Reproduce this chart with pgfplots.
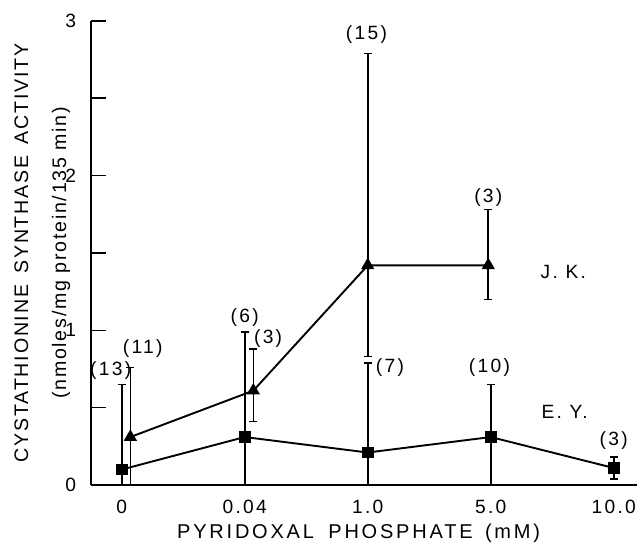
\documentclass[border=0pt]{standalone}
\usepackage{fontspec}
\setmainfont{Liberation Sans}
\newfontfamily\lab[LetterSpace=12]{Liberation Sans}
\newfontfamily\labx[LetterSpace=14]{Liberation Sans}
\newfontfamily\laby[LetterSpace=9]{Liberation Sans}
\usepackage{pgfplots}
\pgfplotsset{compat=1.18}
\newcommand{\lf}{\lab\fontsize{9.6}{11}\selectfont}
\tikzset{cnt/.style={font=\lf, inner sep=0pt}}
\begin{document}
\begin{tikzpicture}
\begin{axis}[
 x=61.5pt, y=77.35pt,
 xmin=-0.25, xmax=4.19, ymin=0, ymax=3,
 axis x line=bottom, axis y line=left,
 axis line style={-, line width=0.9pt},
 xtick={0,1,2,3,4}, xticklabels={0,0.04,1.0,5.0,10.0},
 xtick style={draw=none},
 ytick={0,0.5,...,3}, yticklabels={0,,1,,2,,3},
 tick align=inside, major tick length=7.5pt,
 ytick style={line width=0.8pt, black},
 ticklabel style={font=\lf},
 /pgf/number format/assume math mode=true,
 yticklabel style={xshift=-4pt},
 xticklabel style={yshift=-4pt},
 xlabel={PYRIDOXAL\hspace{3pt} PHOSPHATE\hspace{2pt} (mM)},
 xlabel style={font=\labx\fontsize{10}{12}\selectfont, at={(axis description cs:0.49,-0.1035)}, anchor=center},
 ylabel={CYSTATHIONINE\hspace{2pt} SYNTHASE\hspace{2pt} ACTIVITY\\[8pt](nmoles/mg protein/135 min)},
 ylabel style={font=\laby\fontsize{9.8}{11}\selectfont, align=center, at={(axis description cs:-0.089,0.5)}, anchor=center},
 clip=false,
]
\addplot[black, line width=0.95pt, mark=square*, mark size=2.5pt,
 error bars/.cd, y dir=both, y explicit,
 error bar style={line width=0.8pt, black},
 error mark options={rotate=90, mark size=2pt, line width=0.8pt, black}]
 coordinates {
 (0,0.10) += (0,0.55) -= (0,0.10)
 (1,0.31) += (0,0.68) -= (0,0.31)
 (2,0.21) += (0,0.58) -= (0,0.21)
 (3,0.31) += (0,0.34) -= (0,0.31)
 (4,0.11) += (0,0.07) -= (0,0.07)
 };
\addplot[black, line width=0.95pt, mark=triangle*, mark size=2.9pt,
 error bars/.cd, y dir=both, y explicit,
 error bar style={line width=0.8pt, black},
 error mark options={rotate=90, mark size=2pt, line width=0.8pt, black}]
 coordinates {
 (0.07,0.31) += (0,0.45) -= (0,0.31)
 (1.07,0.61) += (0,0.27) -= (0,0.20)
 (2,1.42) += (0,1.37) -= (0,0.59)
 (2.98,1.42) += (0,0.36) -= (0,0.22)
 };
\node[cnt] at (axis cs:-0.09,0.74) {(13)};
\node[cnt] at (axis cs:0.17,0.88) {(11)};
\node[cnt] at (axis cs:1.0,1.08) {(6)};
\node[cnt] at (axis cs:1.19,0.95) {(3)};
\node[cnt] at (axis cs:1.99,2.91) {(15)};
\node[cnt] at (axis cs:2.98,1.86) {(3)};
\node[cnt] at (axis cs:2.18,0.76) {(7)};
\node[cnt] at (axis cs:2.99,0.76) {(10)};
\node[cnt] at (axis cs:4.0,0.29) {(3)};
\node[cnt] at (axis cs:3.59,1.38) {J. K.};
\node[cnt] at (axis cs:3.6,0.47) {E. Y.};
\coordinate (O) at (axis cs:-0.25,0);
\end{axis}
\pgfresetboundingbox
\path ([shift={(-45.5pt,-29pt)}]O) rectangle ++(319pt,271.5pt);
\end{tikzpicture}
\end{document}
